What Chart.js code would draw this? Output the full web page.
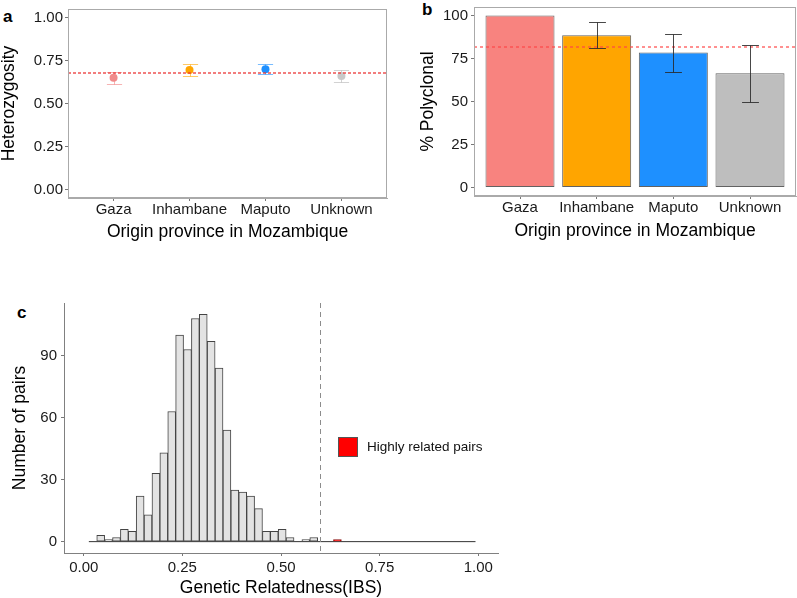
<!DOCTYPE html>
<html>
<head>
<meta charset="utf-8">
<script src="https://cdn.jsdelivr.net/npm/chart.js@4.4.0/dist/chart.umd.min.js"></script>
<style>
body { margin: 0; background: #fff; width: 797px; height: 598px; position: relative; overflow: hidden; font-family: 'Liberation Sans', Arial, sans-serif; }
canvas { position: absolute; }
.tag { position: absolute; font-weight: bold; font-size: 17px; line-height: 17px; color: #000; }
</style>
</head>
<body>
<div class="tag" style="left:3px;top:8px">a</div>
<div class="tag" style="left:422px;top:1px">b</div>
<div class="tag" style="left:17px;top:304px">c</div>
<canvas id="chartA" width="400" height="245" style="left:0;top:0"></canvas>
<canvas id="chartB" width="397" height="245" style="left:400px;top:0"></canvas>
<canvas id="chartC" width="510" height="303" style="left:0;top:295px"></canvas>
<script>
// Данные
const provinces = ['Gaza', 'Inhambane', 'Maputo', 'Unknown'];

// a: гетерозиготность
const hetMean = [0.65, 0.695, 0.70, 0.66];
const hetLow = [0.615, 0.66, 0.67, 0.625];
const hetHigh = [0.685, 0.73, 0.73, 0.695];
const hetRef = 0.68;
const hetTicks = [0, 0.25, 0.5, 0.75, 1];

// b: % поликлональных
const polyPct = [100, 88.5, 78.5, 66.5];
const polyLow = [null, 81, 67, 50];
const polyHigh = [null, 96.5, 89.5, 83];
const polyRef = 81.5;
const polyTicks = [0, 25, 50, 75, 100];

// c: гистограмма IBS
const binCenters = [
    0.023, 0.043, 0.063, 0.083, 0.103, 0.123, 0.143, 0.163, 0.183, 0.203,
    0.223, 0.243, 0.263, 0.283, 0.303, 0.323, 0.343, 0.363, 0.383, 0.403,
    0.423, 0.443, 0.463, 0.483, 0.503, 0.523, 0.543, 0.563, 0.583, 0.603,
    0.623, 0.643, 0.663, 0.683, 0.703, 0.723, 0.743, 0.763, 0.783, 0.803,
    0.823, 0.843, 0.863, 0.883, 0.903, 0.923, 0.943, 0.963, 0.983
];
const pairCounts = [
    0, 3, 1, 2, 6, 5, 22, 13, 33, 43,
    63, 100, 93, 108, 110, 97, 84, 54, 25, 24,
    22, 16, 5, 5, 6, 2, 0, 1, 2, 0,
    0, 0, 0, 0, 0, 0, 0, 0, 0, 0,
    0, 0, 0, 0, 0, 0, 0, 0, 0
];
const binWidth = 0.02;
const relatedBins = [0.643];
const relatedCounts = [1];
const ibsCutoff = 0.6;
const ibsTicks = [0, 0.25, 0.5, 0.75, 1];
const countTicks = [0, 30, 60, 90];

// Цвета
const pointColors = ['#F08A8A', '#FFA500', '#1E90FF', '#C8C8C8'];
const errColors = ['rgba(240,128,128,0.6)', 'rgba(255,165,0,0.6)', 'rgba(30,144,255,0.6)', 'rgba(180,180,180,0.6)'];
const barColors = ['#F8837F', '#FFA500', '#1E90FF', '#BEBEBE'];

Chart.defaults.font.family = "'Liberation Sans', Arial, sans-serif";
Chart.defaults.color = '#1a1a1a';

// фиксированный размер осей, чтобы область графика стояла на месте
const fixSize = (size) => (scale) => {
    if (scale.isHorizontal()) scale.height = size; else scale.width = size;
    scale.paddingTop = 0; scale.paddingBottom = 0;
    scale.paddingLeft = 0; scale.paddingRight = 0;
};
const setTicks = (values) => (scale) => { scale.ticks = values.map(v => ({ value: v })); };

const tickFont = { size: 15, lineHeight: 1 };
const titleFont = { size: 17.5, lineHeight: 1 };

// Плагины (настройки через замыкания)
const makeFrame = (stroke) => ({
    id: 'frame',
    afterDatasetsDraw(chart) {
        const { ctx, chartArea: a } = chart;
        ctx.save();
        ctx.strokeStyle = stroke;
        ctx.lineWidth = 1;
        ctx.strokeRect(a.left + 0.5, a.top + 0.5, a.right - a.left - 1, a.bottom - a.top - 1);
        ctx.restore();
    }
});

// пунктирная опорная линия
const makeRefLine = (axis, value, stroke, dash, width) => ({
    id: 'refLine',
    afterDatasetsDraw(chart) {
        const { ctx, chartArea: a, scales } = chart;
        ctx.save();
        ctx.strokeStyle = stroke;
        ctx.lineWidth = width;
        ctx.setLineDash(dash);
        ctx.beginPath();
        if (axis === 'y') {
            const raw = scales.y.getPixelForValue(value);
            const py = width >= 2 ? 2 * Math.floor(raw / 2) + 1 : Math.round(raw) + 0.5;
            ctx.moveTo(a.left, py); ctx.lineTo(a.right, py);
        } else {
            const px = Math.round(scales.x.getPixelForValue(value)) + 0.5;
            ctx.moveTo(px, a.top); ctx.lineTo(px, a.bottom);
        }
        ctx.stroke();
        ctx.restore();
    }
});

const drawErrors = (chart, low, high, cap, stroke) => {
    const { ctx, scales: { x, y } } = chart;
    ctx.save();
    ctx.lineWidth = 1;
    low.forEach((lo, i) => {
        if (lo == null) return;
        const cx = Math.round(x.getPixelForValue(i + 1)) + 0.5;
        const hw = x.getPixelForValue(i + 1 + cap) - x.getPixelForValue(i + 1);
        const yl = Math.round(y.getPixelForValue(lo)) + 0.5;
        const yh = Math.round(y.getPixelForValue(high[i])) + 0.5;
        ctx.strokeStyle = Array.isArray(stroke) ? stroke[i] : stroke;
        ctx.beginPath();
        ctx.moveTo(cx, yl); ctx.lineTo(cx, yh);
        ctx.moveTo(cx - hw, yl); ctx.lineTo(cx + hw, yl);
        ctx.moveTo(cx - hw, yh); ctx.lineTo(cx + hw, yh);
        ctx.stroke();
    });
    ctx.restore();
};
const makeErrorBars = (low, high, cap, stroke, under) => ({
    id: 'errorBars',
    beforeDatasetsDraw(chart) { if (under) drawErrors(chart, low, high, cap, stroke); },
    afterDatasetsDraw(chart) { if (!under) drawErrors(chart, low, high, cap, stroke); }
});

// легенда внутри области графика
const makeBoxLegend = (index, fx, fy, box) => ({
    id: 'boxLegend',
    afterDraw(chart) {
        const { ctx, chartArea: a } = chart;
        const ds = chart.data.datasets[index];
        const x = Math.round(a.left + fx * (a.right - a.left));
        const y = Math.round(a.top + fy * (a.bottom - a.top));
        ctx.save();
        ctx.fillStyle = ds.backgroundColor;
        ctx.fillRect(x, y, box, box);
        ctx.strokeStyle = '#555';
        ctx.lineWidth = 1;
        ctx.strokeRect(x + 0.5, y + 0.5, box - 1, box - 1);
        ctx.font = "13.5px 'Liberation Sans', Arial, sans-serif";
        ctx.fillStyle = '#111';
        ctx.textBaseline = 'middle';
        ctx.fillText(ds.label, x + box + 9, y + box / 2);
        ctx.restore();
    }
});

// Общие настройки осей для a и b
const provinceAxis = (height, titlePad) => ({
    type: 'linear',
    min: 0.4,
    max: 4.6,
    offset: false,
    afterBuildTicks: setTicks(provinces.map((p, i) => i + 1)),
    afterFit: fixSize(height),
    ticks: { callback: (v) => provinces[v - 1], autoSkip: false, maxRotation: 0, font: tickFont, color: '#1a1a1a', padding: 1 },
    grid: { drawOnChartArea: false, offset: false, tickLength: 3, color: '#777' },
    border: { color: '#aaa' },
    title: { display: true, text: 'Origin province in Mozambique', font: titleFont, color: '#000', padding: { top: 0, bottom: titlePad } }
});

// a: точки с планками погрешностей
new Chart(document.getElementById('chartA'), {
    type: 'scatter',
    data: {
        datasets: [{
            label: 'Heterozygosity',
            data: hetMean.map((v, i) => ({ x: i + 1, y: v })),
            backgroundColor: pointColors,
            borderWidth: 0,
            pointRadius: 4
        }]
    },
    options: {
        responsive: false,
        animation: false,
        devicePixelRatio: 1,
        events: [],
        layout: { padding: { top: 9, right: 13, left: 0, bottom: 0 } },
        plugins: {
            legend: { display: false },
            tooltip: { enabled: false }
        },
        scales: {
            x: provinceAxis(47, 4.5),
            y: {
                min: -0.05,
                max: 1.05,
                afterBuildTicks: setTicks(hetTicks),
                afterFit: fixSize(68),
                ticks: { callback: (v) => v.toFixed(2), font: tickFont, color: '#1a1a1a', padding: 2 },
                grid: { drawOnChartArea: false, tickLength: 3, color: '#777' },
                border: { color: '#aaa' },
                title: { display: true, text: 'Heterozygosity', font: titleFont, color: '#000', padding: { top: 0, bottom: 0 } }
            }
        }
    },
    plugins: [
        makeErrorBars(hetLow, hetHigh, 0.1, errColors, true),
        makeRefLine('y', hetRef, 'rgba(235,55,55,0.65)', [3, 2], 2),
        makeFrame('#aaa')
    ]
});

// b: столбцы
new Chart(document.getElementById('chartB'), {
    type: 'bar',
    data: {
        datasets: [{
            label: '% Polyclonal',
            data: polyPct.map((v, i) => ({ x: i + 1, y: v })),
            backgroundColor: barColors,
            borderColor: 'rgba(70,70,70,0.85)',
            borderWidth: 1,
            borderSkipped: false,
            categoryPercentage: 1,
            barPercentage: 0.9
        }]
    },
    options: {
        responsive: false,
        animation: false,
        devicePixelRatio: 1,
        events: [],
        layout: { padding: { top: 7, right: 1, left: 0, bottom: 0 } },
        plugins: {
            legend: { display: false },
            tooltip: { enabled: false }
        },
        scales: {
            x: provinceAxis(49, 5.5),
            y: {
                min: -5,
                max: 105,
                afterBuildTicks: setTicks(polyTicks),
                afterFit: fixSize(74),
                ticks: { font: tickFont, color: '#1a1a1a', padding: 3 },
                grid: { drawOnChartArea: false, tickLength: 3, color: '#777' },
                border: { color: '#aaa' },
                title: { display: true, text: '% Polyclonal', font: titleFont, color: '#000', padding: { top: 19, bottom: 0 } }
            }
        }
    },
    plugins: [
        makeRefLine('y', polyRef, 'rgba(255,70,70,0.6)', [3, 3], 2),
        makeErrorBars(polyLow, polyHigh, 0.11, 'rgba(40,40,40,0.85)', false),
        makeFrame('#aaa')
    ]
});

// c: гистограмма
new Chart(document.getElementById('chartC'), {
    type: 'bar',
    data: {
        datasets: [{
            label: 'Highly related pairs',
            data: relatedBins.map((b, i) => ({ x: b, y: relatedCounts[i] })),
            backgroundColor: '#FF0000',
            borderColor: '#8a1010',
            borderWidth: 1,
            borderSkipped: false,
            grouped: false,
            categoryPercentage: 1,
            barPercentage: 1,
            order: 0
        }, {
            label: 'Pairs',
            data: binCenters.map((b, i) => ({ x: b, y: pairCounts[i] })),
            backgroundColor: '#E3E3E3',
            borderColor: '#444',
            borderWidth: 1,
            borderSkipped: false,
            grouped: false,
            categoryPercentage: 1,
            barPercentage: 1,
            order: 1
        }, {
            type: 'line',
            label: 'baseline',
            data: [
                { x: binCenters[0] - binWidth / 2, y: 0 },
                { x: binCenters[binCenters.length - 1] + binWidth / 2, y: 0 }
            ],
            borderColor: '#333',
            borderWidth: 1,
            pointRadius: 0,
            order: 2
        }]
    },
    options: {
        responsive: false,
        animation: false,
        devicePixelRatio: 1,
        events: [],
        layout: { padding: { top: 8, right: 12, left: 0, bottom: 0 } },
        plugins: {
            legend: { display: false },
            tooltip: { enabled: false }
        },
        scales: {
            x: {
                type: 'linear',
                min: -0.05,
                max: 1.05,
                offset: false,
                afterBuildTicks: setTicks(ibsTicks),
                afterFit: fixSize(45),
                ticks: { callback: (v) => v.toFixed(2), autoSkip: false, maxRotation: 0, font: tickFont, color: '#1a1a1a', padding: 4 },
                grid: { drawOnChartArea: false, offset: false, tickLength: 3, color: '#777' },
                border: { color: '#808080' },
                title: { display: true, text: 'Genetic Relatedness(IBS)', font: titleFont, color: '#000', padding: { top: 0, bottom: 1 } }
            },
            y: {
                min: -5.5,
                max: 115.5,
                afterBuildTicks: setTicks(countTicks),
                afterFit: fixSize(64),
                ticks: { font: tickFont, color: '#1a1a1a', padding: 4 },
                grid: { drawOnChartArea: false, tickLength: 3, color: '#777' },
                border: { color: '#808080' },
                title: { display: true, text: 'Number of pairs', font: titleFont, color: '#000', padding: { top: 11, bottom: 0 } }
            }
        }
    },
    plugins: [
        makeRefLine('x', ibsCutoff, '#8c8c8c', [5, 4], 1),
        makeBoxLegend(0, 0.631, 0.536, 20)
    ]
});
</script>
</body>
</html>
